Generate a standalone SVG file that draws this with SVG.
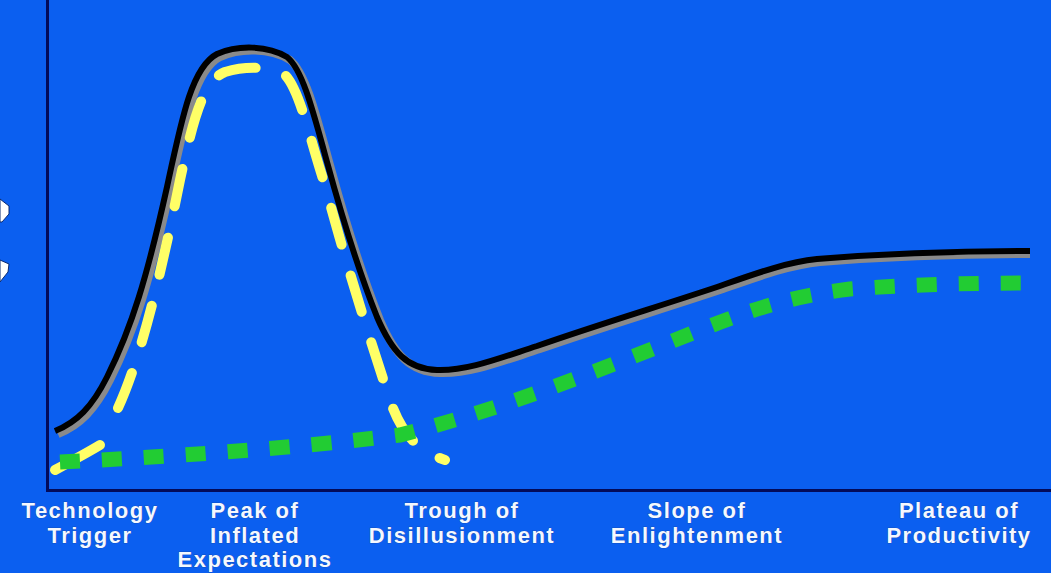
<svg xmlns="http://www.w3.org/2000/svg" width="1051" height="573" viewBox="0 0 1051 573">
<style>
.lbl{font-family:"Liberation Sans",Arial,sans-serif;font-weight:bold;font-size:22px;fill:#f4f8ff;text-anchor:middle;letter-spacing:1.5px;stroke:#1a3f9a;stroke-width:0.6px;paint-order:stroke}
.axis{stroke:#030b5a;stroke-width:3;fill:none}
</style>
<rect width="1051" height="573" fill="#0b5ff0"/>
<g id="axes">
<line class="axis" x1="47.5" y1="0" x2="47.5" y2="491"/>
<line class="axis" x1="46" y1="490.5" x2="1051" y2="490.5"/>
</g>
<g id="axis-marks" fill="#ffffff" stroke="#0a2a70" stroke-width="1">
<path d="M0,199 L9,206 L9,214 L2,222 L0,222 Z"/>
<path d="M0,260 L9,264 L8,272 L0,282 Z"/>
</g>
<g id="connectors" fill="none">
<path id="hype-shadow" d="M58,434 C80,425 95,410 110,380 C135,330 150,280 170,190 C185,120 195,70 220,57 C240,48 270,48 290,60 C305,72 315,110 330,165 C345,220 360,270 380,320 C395,355 410,372 440,373 C470,374 500,362 540,349 C600,328 660,310 720,290 C760,276 790,265 820,262 C870,258 950,254 1030,254" stroke="#8a8a8a" stroke-width="8"/>
<path id="hype" d="M55,431 C77,422 92,407 107,377 C132,327 147,277 167,187 C182,117 192,67 217,54 C237,45 267,45 287,57 C302,69 312,107 327,162 C342,217 357,267 377,317 C392,352 407,369 437,370 C467,371 497,359 537,346 C597,325 657,307 717,287 C757,273 787,262 817,259 C867,255 947,251 1030,251" stroke="#000000" stroke-width="6"/>
<path id="tech" d="M55,470 C70,462 85,454 100,445" stroke="#ffff66" stroke-width="10" stroke-linecap="round"/>
<path id="hype-expectation" d="M118,408 C140,360 160,280 180,180 C195,110 205,80 225,72 C245,66 270,66 285,75 C300,90 310,140 325,185 C345,260 370,340 390,400 C400,430 415,450 445,460" stroke="#ffff66" stroke-width="10" stroke-linecap="round" stroke-dasharray="38 32"/>
<path id="maturity" d="M60,462 C150,458 300,448 400,435 C500,410 600,370 700,330 C760,306 800,295 850,289 C920,284 980,283 1030,283" stroke="#22cc33" stroke-width="15" stroke-dasharray="20 22"/>
</g>
<g id="label-trigger">
<text class="lbl" x="90" y="518">Technology</text><text class="lbl" x="90" y="543">Trigger</text>
</g>
<g id="label-peak">
<text class="lbl" x="255" y="518">Peak of</text><text class="lbl" x="255" y="543">Inflated</text><text class="lbl" x="255" y="567">Expectations</text>
</g>
<g id="label-trough">
<text class="lbl" x="462" y="518">Trough of</text><text class="lbl" x="462" y="543">Disillusionment</text>
</g>
<g id="label-slope">
<text class="lbl" x="697" y="518">Slope of</text><text class="lbl" x="697" y="543">Enlightenment</text>
</g>
<g id="label-plateau">
<text class="lbl" x="959" y="518">Plateau of</text><text class="lbl" x="959" y="543">Productivity</text>
</g>
</svg>
